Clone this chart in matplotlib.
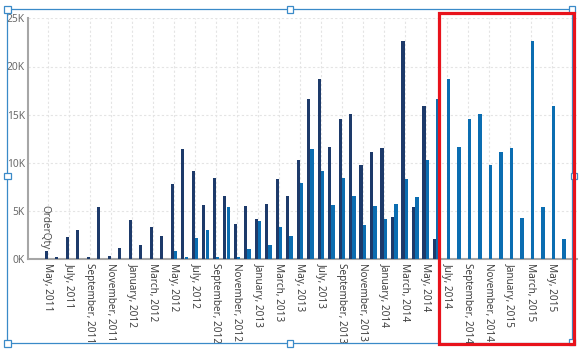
import numpy as np
import matplotlib
matplotlib.use("Agg")
import matplotlib.pyplot as plt
from matplotlib.patches import Rectangle
from matplotlib.ticker import FuncFormatter, MultipleLocator

plt.rcParams['font.family'] = ['Noto Sans', 'DejaVu Sans']

# OrderQty per month, May 2011 .. June 2015 (values in units)
dark_qty = [860, 240, 2270, 3000, 240, 5450, 300, 1140,
            4030, 1480, 3300, 2450, 7800, 11400, 9200, 5600, 8400, 6600, 3650, 5500,
            4200, 5700, 8300, 6550, 10300, 16600, 18700, 11600, 14600, 15100, 9800, 11100,
            11500, 4400, 22600, 5400, 15900, 2100]
blue_qty = [0, 0, 0, 0, 0, 0, 0, 0,
            0, 0, 0, 0, 860, 240, 2200, 3000, 240, 5400, 250, 1100,
            4000, 1500, 3300, 2450, 7900, 11400, 9200, 5600, 8400, 6600, 3600, 5500,
            4200, 5700, 8300, 6500, 10300, 16600, 18700, 11600, 14600, 15100, 9800, 11100,
            11500, 4300, 22600, 5400, 15900, 2100]
tick_labels = ["May, 2011", "July, 2011", "September, 2011", "November, 2011",
               "January, 2012", "March, 2012", "May, 2012", "July, 2012",
               "September, 2012", "November, 2012", "January, 2013", "March, 2013",
               "May, 2013", "July, 2013", "September, 2013", "November, 2013",
               "January, 2014", "March, 2014", "May, 2014", "July, 2014",
               "September, 2014", "November, 2014", "January, 2015", "March, 2015",
               "May, 2015"]

DARK = "#1d3a6a"
BLUE = "#0b6db1"
W, H = 581, 355

fig = plt.figure(figsize=(W / 100, H / 100), dpi=100)
ax = fig.add_axes([28 / W, 95.7 / H, (577 - 28) / W, (259.3 - 18.3) / H])

x = np.arange(len(blue_qty))
ax.bar(x[:len(dark_qty)] - 0.165, dark_qty, width=0.31, color=DARK, zorder=3)
ax.bar(x + 0.165, blue_qty, width=0.31, color=BLUE, zorder=3)

ax.set_xlim(-1.9, 50.4)
ax.set_ylim(0, 25000)
ax.yaxis.set_major_locator(MultipleLocator(5000))
ax.yaxis.set_major_formatter(FuncFormatter(lambda v, p: f"{int(v / 1000)}K"))
ax.set_xticks(x[::2])
ax.set_xticklabels(tick_labels, rotation=-90, ha='center', va='top',
                   fontsize=7.2, color='#404040')
ax.tick_params(axis='x', length=0, pad=2.8)
ax.tick_params(axis='y', length=0, pad=2.2, labelsize=7.4, labelcolor='#6a6a6a')

ax.grid(True, color='#e4e4e4', linestyle=(0, (2, 2)), linewidth=0.8, zorder=0)
for s in ['top', 'right']:
    ax.spines[s].set_visible(False)
for s in ['left', 'bottom']:
    ax.spines[s].set_color('#a6a6a6')
    ax.spines[s].set_linewidth(1.5)

# overlay in pixel coordinates: selection frame, handles, red box
ov = fig.add_axes([0, 0, 1, 1], zorder=5)
ov.set_xlim(0, W)
ov.set_ylim(H, 0)
ov.axis('off')
ov.patch.set_alpha(0)

ov.text(45, 205, "OrderQty", rotation=-90, ha='center', va='top',
        fontsize=7.2, color='#505050')

FRAME = "#3a8ac8"
ov.add_patch(Rectangle((7.3, 9.3), 565, 334, fill=False, ec=FRAME, lw=0.9))
for hx, hy in [(7.3, 9.3), (290, 9.3), (572.3, 9.3), (7.3, 176), (574, 176),
               (7.3, 343.3), (290, 343.3), (572.3, 342)]:
    ov.add_patch(Rectangle((hx - 3.2, hy - 3.2), 6.4, 6.4, fc='white', ec=FRAME, lw=0.9))

ov.add_patch(Rectangle((439, 12.7), 135, 331.5, fill=False, ec='#e8121b', lw=2.3))

fig.savefig("out.png", dpi=100)
